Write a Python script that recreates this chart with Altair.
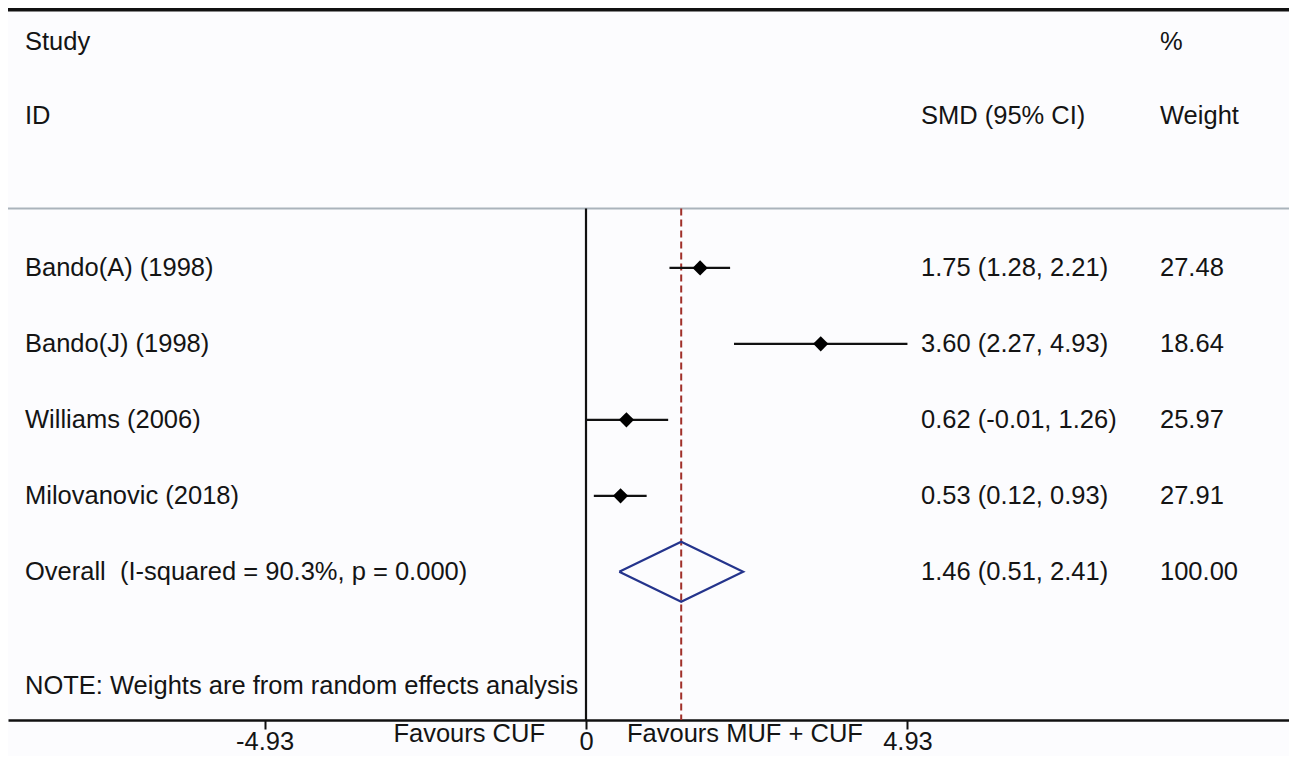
import altair as alt
import pandas as pd

# ---- data ----
studies = ["Bando(A) (1998)", "Bando(J) (1998)", "Williams (2006)", "Milovanovic (2018)"]
smd = [1.75, 3.60, 0.62, 0.53]
ci_lo = [1.28, 2.27, -0.01, 0.12]
ci_hi = [2.21, 4.93, 1.26, 0.93]
weights = [27.48, 18.64, 25.97, 27.91]

overall_label = "Overall\u00a0 (I-squared = 90.3%, p = 0.000)"
overall_est = 1.46
overall_lo = 0.51
overall_hi = 2.41
overall_weight = 100.00

tick_values = [-4.93, 0, 4.93]
favours_left = "Favours CUF"
favours_right = "Favours MUF + CUF"
note = "NOTE: Weights are from random effects analysis"

FONT = "Liberation Sans"
FS = 25.5
W, H = 1281, 712
XDOM = [-8.865, 10.782]
YDOM = [-3.42, 5.95]
HEADER_ROW = -0.78

xs = alt.Scale(domain=XDOM, nice=False, zero=False)
ys = alt.Scale(domain=YDOM, nice=False, zero=False, reverse=True)

rows = list(range(len(studies)))
studies_df = pd.DataFrame({
    "row": rows, "study": studies, "smd": smd, "lo": ci_lo, "hi": ci_hi,
    "ci_text": [f"{e:.2f} ({l:.2f}, {h:.2f})" for e, l, h in zip(smd, ci_lo, ci_hi)],
    "w_text": [f"{w:.2f}" for w in weights],
})
ov_row = len(studies)
text_df = pd.DataFrame({
    "row": rows + [ov_row],
    "label": studies + [overall_label],
    "ci_text": list(studies_df["ci_text"]) + [f"{overall_est:.2f} ({overall_lo:.2f}, {overall_hi:.2f})"],
    "w_text": list(studies_df["w_text"]) + [f"{overall_weight:.2f}"],
})

half = 0.395
diamond_df = pd.DataFrame({
    "x": [overall_lo, overall_est, overall_hi, overall_est, overall_lo],
    "y": [ov_row, ov_row - half, ov_row, ov_row + half, ov_row],
    "o": [0, 1, 2, 3, 4],
})

TXT = "#141414"
base_txt = dict(font=FONT, fontSize=FS, color=TXT, baseline="middle", align="left")

# axis layer (invisible points to carry the x axis)
axis_df = pd.DataFrame({"x": tick_values})
axis_layer = alt.Chart(axis_df).mark_point(opacity=0).encode(
    x=alt.X("x:Q", scale=xs, axis=alt.Axis(
        values=tick_values, title=None, grid=False,
        labelExpr="datum.value == 0 ? '0' : (datum.value < 0 ? '-' + format(-datum.value, '.2f') : format(datum.value, '.2f'))",
        labelFont=FONT, labelFontSize=FS, labelColor=TXT,
        domainColor="#111111", domainWidth=2.5, tickColor="#111111",
        tickWidth=2, tickSize=9, labelPadding=0, labelFlush=False)),
    y=alt.value(H),
)

# top thick line and header separator
top_line = alt.Chart(pd.DataFrame({"a": [0]})).mark_rule(color="#111111", strokeWidth=3.5).encode(
    x=alt.value(0), x2=alt.value(W), y=alt.value(1.8))
header_line = alt.Chart(pd.DataFrame({"y": [HEADER_ROW]})).mark_rule(color="#aab3bb", strokeWidth=2).encode(
    x=alt.value(0), x2=alt.value(W), y=alt.Y("y:Q", scale=ys, axis=None))

# null line and overall line
vl_df = pd.DataFrame({"x": [0.0], "y1": [HEADER_ROW], "y2": [YDOM[1]]})
zero_line = alt.Chart(vl_df).mark_rule(color="#111111", strokeWidth=2.2).encode(
    x=alt.X("x:Q", scale=xs), y=alt.Y("y1:Q", scale=ys, axis=None), y2="y2:Q")
ov_df = pd.DataFrame({"x": [overall_est], "y1": [HEADER_ROW], "y2": [YDOM[1]]})
ov_line = alt.Chart(ov_df).mark_rule(color="#a0302a", strokeWidth=2, strokeDash=[7, 4]).encode(
    x=alt.X("x:Q", scale=xs), y=alt.Y("y1:Q", scale=ys, axis=None), y2="y2:Q")

# CI lines and markers
ci = alt.Chart(studies_df).mark_rule(color="#111111", strokeWidth=2.4).encode(
    x=alt.X("lo:Q", scale=xs), x2="hi:Q", y=alt.Y("row:Q", scale=ys, axis=None))
pts = alt.Chart(studies_df).mark_point(shape="diamond", filled=True, color="#000000", size=230, opacity=1).encode(
    x=alt.X("smd:Q", scale=xs), y=alt.Y("row:Q", scale=ys, axis=None))

diamond = alt.Chart(diamond_df).mark_line(color="#24348c", strokeWidth=2.2).encode(
    x=alt.X("x:Q", scale=xs), y=alt.Y("y:Q", scale=ys, axis=None), order="o:Q")

# text columns
lab = alt.Chart(text_df).mark_text(**base_txt).encode(
    x=alt.value(17), y=alt.Y("row:Q", scale=ys, axis=None), text="label:N")
cit = alt.Chart(text_df).mark_text(**base_txt).encode(
    x=alt.value(913), y=alt.Y("row:Q", scale=ys, axis=None), text="ci_text:N")
wt = alt.Chart(text_df).mark_text(**base_txt).encode(
    x=alt.value(1152), y=alt.Y("row:Q", scale=ys, axis=None), text="w_text:N")

hdr_df = pd.DataFrame({
    "t": ["Study", "ID", "SMD (95% CI)", "%", "Weight", note],
    "px": [17, 17, 913, 1152, 1152, 17],
    "row": [-2.97, -2.0, -2.0, -2.97, -2.0, 5.5],
})
hdr = alt.Chart(hdr_df).mark_text(**base_txt).encode(
    x=alt.X("px:Q", scale=None), y=alt.Y("row:Q", scale=ys, axis=None), text="t:N")

fav_l = alt.Chart(pd.DataFrame({"t": [favours_left]})).mark_text(
    font=FONT, fontSize=FS, color=TXT, align="right", baseline="middle").encode(
    x=alt.value(537), y=alt.value(H + 14), text="t:N")
fav_r = alt.Chart(pd.DataFrame({"t": [favours_right]})).mark_text(
    font=FONT, fontSize=FS, color=TXT, align="left", baseline="middle").encode(
    x=alt.value(619), y=alt.value(H + 14), text="t:N")

chart = alt.layer(
    axis_layer, top_line, header_line, zero_line, ov_line, ci, pts, diamond,
    lab, cit, wt, hdr, fav_l, fav_r,
).properties(
    width=W, height=H,
    autosize=alt.AutoSizeParams(type="none"),
    padding={"left": 0, "top": 0, "right": 0, "bottom": 36},
    background="#fcfcfe",
).configure_view(stroke=None)

chart.save("out.html", embed_options={"renderer": "svg", "actions": False})
